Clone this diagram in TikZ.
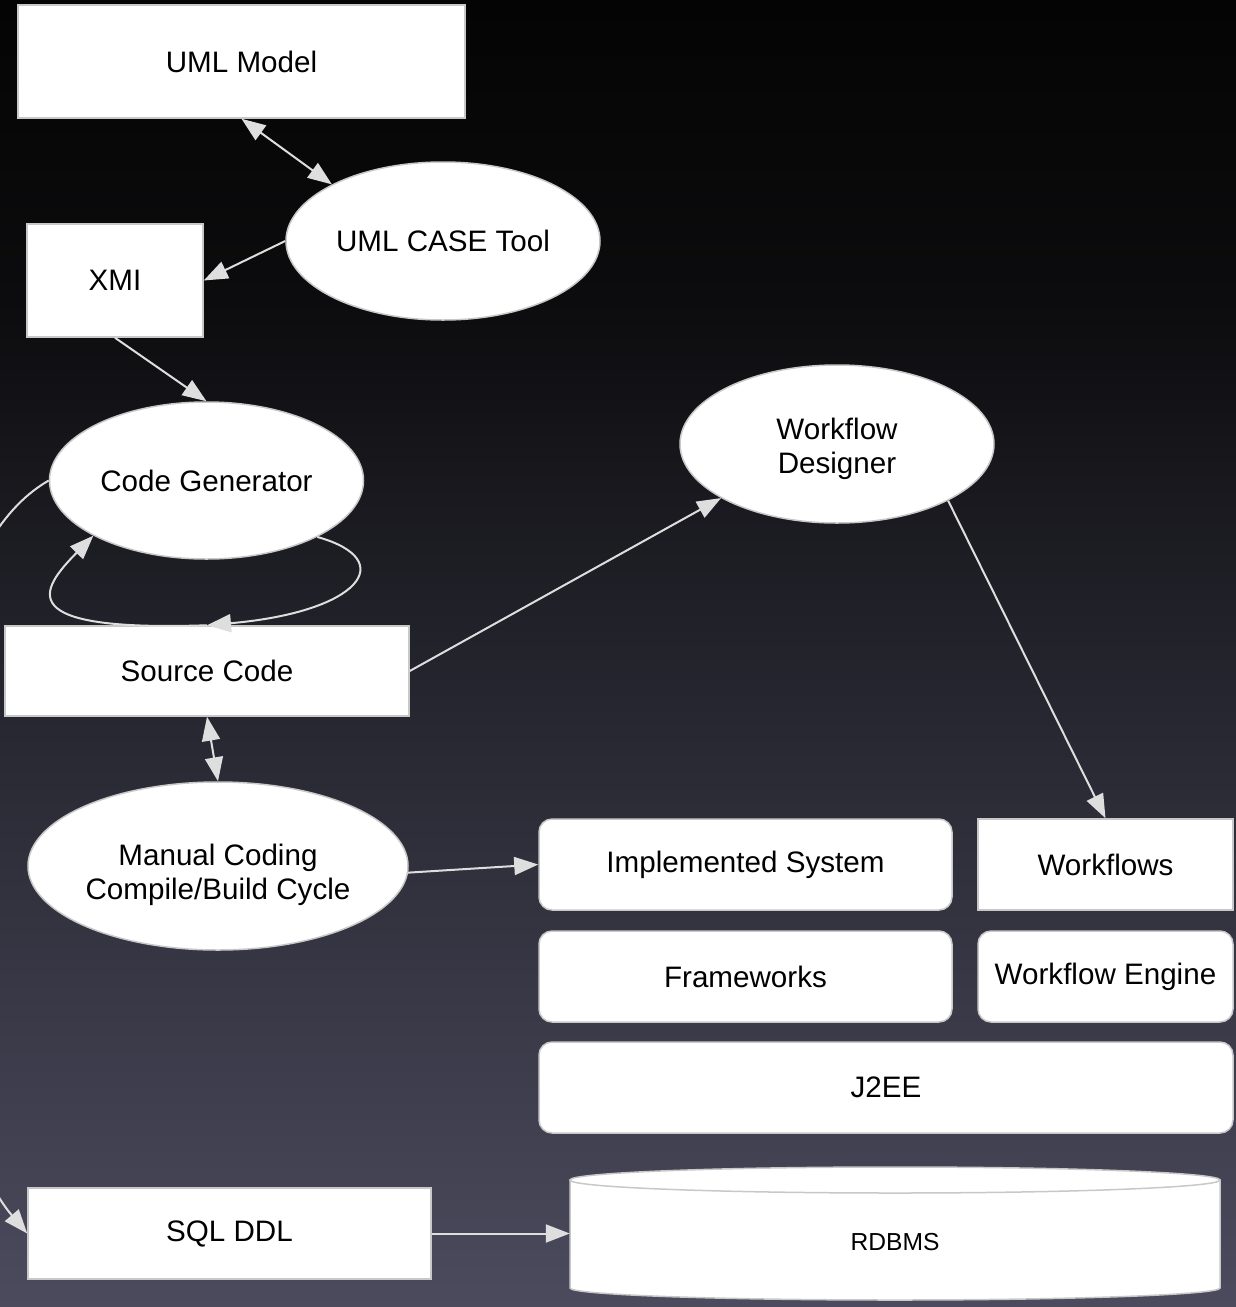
\documentclass[tikz,border=0pt]{standalone}
\usepackage{fontspec}
\setmainfont{Liberation Sans}
\usetikzlibrary{arrows.meta,shapes.geometric,calc}
\definecolor{bgB}{RGB}{76,75,94}
\definecolor{bgM}{RGB}{35,35,44}
\definecolor{bgT2}{RGB}{12,12,14}
\definecolor{bgT}{RGB}{4,4,4}
\definecolor{edge}{RGB}{200,200,200}
\definecolor{arr}{RGB}{222,222,222}
\pgfdeclareverticalshading{bgsh}{100bp}{color(0bp)=(bgB); color(25bp)=(bgB); color(50bp)=(bgM); color(63.5bp)=(bgT2); color(75bp)=(bgT); color(100bp)=(bgT)}
\begin{document}
\begin{tikzpicture}[x=1pt,y=-1pt,
  txt/.style={text=black, align=center, font=\fontsize{29.6pt}{34pt}\selectfont},
  box/.style={draw=edge, line width=1.5pt, fill=white, inner sep=0pt, txt},
  rbox/.style={box, rounded corners=13pt},
  oval/.style={box, ellipse},
  tipx/.tip={Triangle[length=24pt,width=18pt]},
  conn/.style={draw=arr, line width=2pt, -tipx},
  bconn/.style={draw=arr, line width=2pt, tipx-tipx}]
\useasboundingbox (0,0) rectangle (1236,1307);
\shade[shading=bgsh] (0,0) rectangle (1236,1307);

% nodes
\node[box, minimum width=447, minimum height=113] (uml) at (241.5,61.5) {UML Model};
\node[oval, minimum width=314, minimum height=158] (case) at (443,241) {UML CASE Tool};
\node[box, minimum width=176, minimum height=113] (xmi) at (115,280.5) {XMI};
\node[oval, minimum width=314, minimum height=157] (cg) at (206.5,480.5) {Code Generator};
\node[box, minimum width=404, minimum height=90] (src) at (207,671) {Source Code};
\node[oval, minimum width=380, minimum height=168] (man) at (218,866) {};
\node[txt, inner sep=0pt] (mantext) at ([yshift=-9pt]man.center) {Manual Coding\\Compile/Build Cycle};
\node[oval, minimum width=314, minimum height=158] (wd) at (837,444) {};
\node[txt, inner sep=0pt] (wdtext) at ([yshift=-5pt]wd.center) {Workflow\\Designer};
\node[rbox, minimum width=413, minimum height=91] (impl) at (745.5,864.5) {Implemented System};
\node[box, minimum width=255, minimum height=91] (wf) at (1105.5,864.5) {Workflows};
\node[rbox, minimum width=413, minimum height=91] (fw) at (745.5,976.5) {Frameworks};
\node[rbox, minimum width=255, minimum height=91] (wfe) at (1105.5,976.5) {Workflow Engine};
\node[rbox, minimum width=694, minimum height=91] (j2ee) at (886,1087.5) {J2EE};
\node[box, minimum width=403, minimum height=91] (sql) at (229.5,1233.5) {SQL DDL};

% RDBMS cylinder
\filldraw[fill=white, draw=edge, line width=1.5pt]
  (570,1180) -- (570,1288)
  .. controls (570,1294.6) and (715.5,1300) .. (895,1300)
  .. controls (1074.5,1300) and (1220,1294.6) .. (1220,1288)
  -- (1220,1180) -- cycle;
\filldraw[fill=white, draw=edge, line width=1.5pt]
  (570,1180) .. controls (570,1172.8) and (715.5,1167) .. (895,1167)
  .. controls (1074.5,1167) and (1220,1172.8) .. (1220,1180)
  .. controls (1220,1187.2) and (1074.5,1193) .. (895,1193)
  .. controls (715.5,1193) and (570,1187.2) .. (570,1180) -- cycle;
\node[inner sep=0pt, minimum width=650, minimum height=120, text=black,
  font=\fontsize{24.6pt}{28pt}\selectfont] (rdbms) at (895,1242) {RDBMS};

% connectors
\draw[bconn] (uml.south) -- (case.153);
\draw[conn] (case.west) -- (xmi.east);
\draw[conn] (xmi.south) -- (cg.north);
\draw[conn] (src.north) .. controls (10,632) and (40,590) .. (cg.206);
\draw[conn] (cg.-27) .. controls (400,560) and (360,612) .. (src.north);
\draw[bconn] (src.south) -- (man.north);
\draw[conn] (man.-2) -- (impl.west);
\draw[conn] (src.east) -- (wd.205);
\draw[conn] (wd.-27) -- (wf.north);
\draw[conn] (sql.east) -- (sql.east -| rdbms.west);
\begin{scope}
  \clip (0,0) rectangle (1236,1307);
  \draw[conn] (cg.west) .. controls (-125,580) and (-87,1099) .. (sql.west);
\end{scope}
\end{tikzpicture}
\end{document}
